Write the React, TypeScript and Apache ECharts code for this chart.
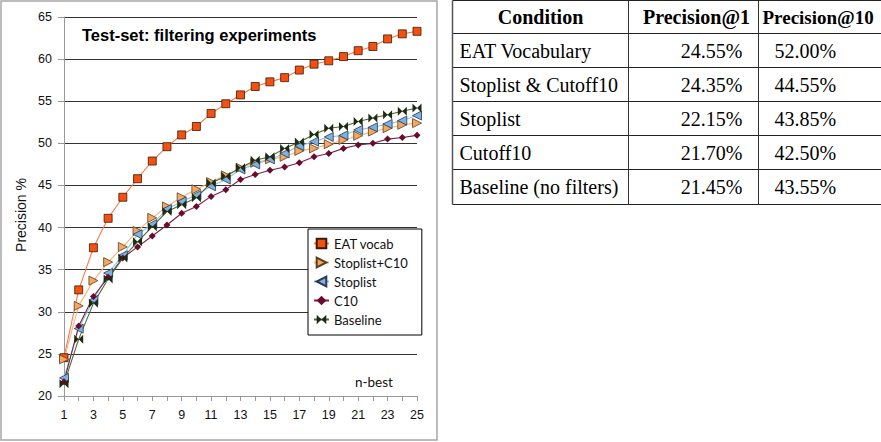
import { useEffect, useRef } from 'react';
import * as echarts from 'echarts';

// n-best cut-off (x axis)
const nBest = ['1', '2', '3', '4', '5', '6', '7', '8', '9', '10', '11', '12', '13', '14', '15', '16', '17', '18', '19', '20', '21', '22', '23', '24', '25'];

// Precision % at each n-best cut-off, per filtering condition
const eatVocab = [24.55, 32.6, 37.6, 41.1, 43.6, 45.8, 47.9, 49.6, 51.0, 52.0, 53.55, 54.7, 55.75, 56.75, 57.3, 57.8, 58.7, 59.4, 59.8, 60.3, 61.0, 61.5, 62.4, 63.0, 63.3];
const stoplistC10 = [24.35, 30.7, 33.7, 35.9, 37.7, 39.6, 41.15, 42.5, 43.6, 44.55, 45.4, 46.2, 47.1, 47.7, 48.1, 48.4, 49.1, 49.4, 49.9, 50.4, 50.9, 51.4, 51.8, 52.2, 52.4];
const stoplist = [22.15, 28.0, 31.4, 34.6, 36.7, 39.2, 40.4, 42.2, 43.1, 43.85, 44.9, 45.7, 46.9, 47.5, 48.1, 48.8, 49.7, 50.2, 50.75, 50.95, 51.6, 51.9, 52.3, 52.7, 53.3];
const c10 = [21.7, 28.3, 31.8, 34.1, 36.4, 37.7, 39.0, 40.3, 41.7, 42.5, 43.7, 44.5, 45.7, 46.3, 46.8, 47.2, 47.7, 48.4, 48.8, 49.4, 49.8, 50.0, 50.5, 50.7, 50.95];
const baseline = [21.45, 26.75, 31.0, 33.9, 36.4, 38.3, 40.1, 41.9, 42.7, 43.55, 45.3, 46.1, 47.1, 48.0, 48.4, 49.4, 50.15, 51.05, 51.8, 52.0, 52.6, 53.0, 53.4, 53.8, 54.2];

// Summary table
const tableHeaders = ['Condition', 'Precision@1', 'Precision@10'];
const conditions = ['EAT Vocabulary', 'Stoplist & Cutoff10', 'Stoplist', 'Cutoff10', 'Baseline (no filters)'];
const precisionAt1 = [24.55, 24.35, 22.15, 21.7, 21.45];
const precisionAt10 = [52.0, 44.55, 43.85, 42.5, 43.55];

const SANS = "Liberation Sans";
const LEGEND_FONT = "Lato";
const SERIF = "Liberation Serif";

const RIGHT_TRI = 'path://M0,0 L10,5 L0,10 Z';
const LEFT_TRI = 'path://M10,0 L0,5 L10,10 Z';
const BOWTIE = 'path://M0,0 L5,5 L0,10 Z M10,0 L5,5 L10,10 Z';

function serifText(text: string, x: number, y: number, align: string, bold = false, size = 20) {
  return {
    type: 'text',
    x,
    y,
    style: {
      text,
      fontFamily: SERIF,
      fontSize: size,
      fontWeight: bold ? 'bold' : 'normal',
      fill: '#000',
      align,
      verticalAlign: 'middle',
    },
  };
}

function buildTable(): any[] {
  const els: any[] = [];
  const colX = [452.5, 628.5, 758.5, 896];
  const rowY = [0.5, 33.5, 67.5, 101.5, 135.5, 169.5, 204.5];
  rowY.forEach((y) => {
    els.push({ type: 'line', shape: { x1: colX[0], y1: y, x2: colX[3], y2: y }, style: { stroke: '#222', lineWidth: 1 } });
  });
  colX.slice(0, 3).forEach((x, i) => {
    els.push({
      type: 'line',
      shape: { x1: x, y1: rowY[0], x2: x, y2: rowY[rowY.length - 1] },
      style: { stroke: i === 0 ? '#555' : '#333', lineWidth: i === 0 ? 1.5 : 1 },
    });
  });
  const mid = (r: number) => (rowY[r] + rowY[r + 1]) / 2;
  els.push(serifText(tableHeaders[0], (colX[0] + colX[1]) / 2, mid(0), 'center', true));
  els.push(serifText(tableHeaders[1], (colX[1] + colX[2]) / 2 + 3, mid(0), 'center', true));
  els.push(serifText(tableHeaders[2], colX[2] + 4, mid(0), 'left', true, 19));
  conditions.forEach((name, r) => {
    const y = mid(r + 1);
    els.push(serifText(name, colX[0] + 7, y, 'left'));
    els.push(serifText(precisionAt1[r].toFixed(2) + '%', colX[2] - 16, y, 'right'));
    els.push(serifText(precisionAt10[r].toFixed(2) + '%', colX[2] + 16, y, 'left'));
  });
  return els;
}

export default function App() {
  const ref = useRef<HTMLDivElement>(null);

  useEffect(() => {
    if (!ref.current) return;
    const chart = echarts.init(ref.current, undefined, { renderer: 'svg' });

    const lineSeries = (name: string, data: number[], symbol: string, size: number, fill: string, border: string, borderWidth: number, line: string) => ({
      name,
      type: 'line',
      data,
      symbol,
      symbolSize: size,
      showSymbol: true,
      lineStyle: { color: line, width: 1.1 },
      itemStyle: { color: fill, borderColor: border, borderWidth },
    });

    chart.setOption({
      animation: false,
      backgroundColor: '#fff',
      title: {
        text: 'Test-set: filtering experiments',
        left: 82,
        top: 26,
        padding: 0,
        textStyle: { fontFamily: SANS, fontWeight: 'bold', fontSize: 16.5, color: '#000' },
      },
      grid: { left: 64, top: 17, width: 353, height: 379, containLabel: false },
      xAxis: {
        type: 'category',
        data: nBest,
        boundaryGap: false,
        axisLine: { lineStyle: { color: '#999', width: 1 } },
        axisTick: { show: true, interval: 0, length: 5, lineStyle: { color: '#999' } },
        axisLabel: { interval: 1, margin: 12, fontFamily: SANS, fontSize: 12.5, color: '#111' },
        splitLine: { show: false },
      },
      yAxis: {
        type: 'value',
        min: 20,
        max: 65,
        interval: 5,
        axisLine: { show: true, lineStyle: { color: '#999', width: 1 } },
        axisTick: { show: true, length: 6, lineStyle: { color: '#999' } },
        axisLabel: { margin: 12, fontFamily: SANS, fontSize: 12.5, color: '#111' },
        splitLine: {
          show: true,
          lineStyle: { color: ['#999', '#333', '#333', '#333', '#333', '#333', '#333', '#333', '#333', '#333'], width: 1 },
        },
      },
      legend: {
        orient: 'vertical',
        left: 308,
        top: 229,
        padding: [8, 14, 9, 5],
        itemWidth: 15,
        itemHeight: 12,
        itemGap: 6,
        backgroundColor: '#fff',
        borderColor: '#000',
        borderWidth: 1,
        borderRadius: 0,
        textStyle: { fontFamily: LEGEND_FONT, fontSize: 13, color: '#111', lineHeight: 12 },
        data: ['EAT vocab', 'Stoplist+C10', 'Stoplist', 'C10', 'Baseline'],
      },
      series: [
        lineSeries('EAT vocab', eatVocab, 'rect', 8, '#F5500F', '#3a1a0a', 0.8, '#F47A4C'),
        lineSeries('Stoplist+C10', stoplistC10, RIGHT_TRI, 9, '#F5A661', '#5a4020', 0.8, '#F7B27A'),
        lineSeries('Stoplist', stoplist, LEFT_TRI, 9, '#7DB2E0', '#2a3a50', 0.8, '#8CC4EC'),
        lineSeries('C10', c10, 'diamond', 7, '#6B0A2E', '#6B0A2E', 0, '#7A2048'),
        lineSeries('Baseline', baseline, BOWTIE, 9, '#1E2A12', '#1E2A12', 0, '#4E6B2E'),
      ],
      graphic: [
        // frame around the chart panel
        {
          type: 'rect',
          shape: { x: 1, y: 1, width: 436, height: 439 },
          style: { fill: 'none', stroke: '#a6a6a6', lineWidth: 1.5 },
          silent: true,
        },
        {
          type: 'text',
          x: 21,
          y: 215,
          rotation: Math.PI / 2,
          style: { text: 'Precision %', fontFamily: SANS, fontSize: 14, fill: '#111', align: 'center', verticalAlign: 'middle' },
        },
        {
          type: 'text',
          x: 355,
          y: 382,
          style: { text: 'n-best', fontFamily: LEGEND_FONT, fontSize: 13.5, fill: '#111', align: 'left', verticalAlign: 'middle' },
        },
        ...buildTable(),
      ],
    });

    return () => chart.dispose();
  }, []);

  return (
    <div
      ref={ref}
      style={{ position: 'fixed', left: 0, top: 0, width: 881, height: 442, background: '#fff' }}
    />
  );
}
